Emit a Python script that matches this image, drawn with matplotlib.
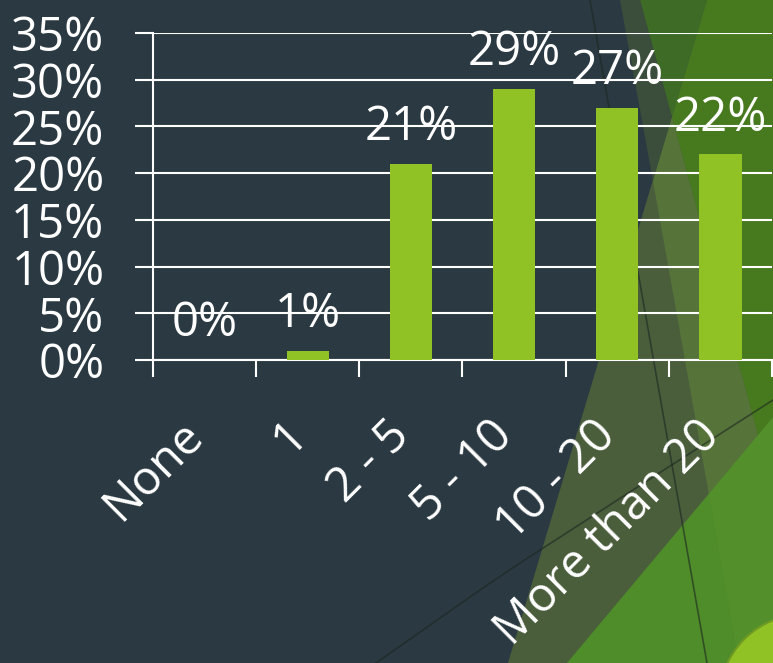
import matplotlib
matplotlib.use('Agg')
import matplotlib.pyplot as plt
from matplotlib.patches import Polygon, Ellipse
from matplotlib.lines import Line2D
from matplotlib.transforms import ScaledTranslation

categories = ['None', '1', '2 - 5', '5 - 10', '10 - 20', 'More than 20']
shares = [0, 1, 21, 29, 27, 22]
y_ticks = [0, 5, 10, 15, 20, 25, 30, 35]

W, H = 773, 663
BG = '#2b3a42'
BAR = '#90c226'
FS = 34

plt.rcParams['font.family'] = ['Open Sans', 'DejaVu Sans']

fig = plt.figure(figsize=(W / 100, H / 100), dpi=100)
fig.set_facecolor(BG)


def px(pts):
    # slide pixel coords (origin top-left) -> figure fraction
    return [(x / W, 1 - y / H) for x, y in pts]


# facet theme shapes on the right of the slide
facets = [
    ([(707, 0), (800, 0), (800, 663), (508, 663)], '#4a5e3c'),
    ([(620, 0), (640, 0), (672, 117), (653, 181)], '#3b4d3b'),
    ([(672, 117), (800, 590), (800, 663), (739, 663), (653, 181)], '#56733a'),
    ([(640, 0), (707, 0), (672, 117)], '#3e6c27'),
    ([(707, 0), (800, 0), (800, 590), (672, 117)], '#47791f'),
    ([(567, 663), (800, 385), (800, 663)], '#4f8c2a'),
    ([(709, 494), (800, 385), (800, 663), (739, 663)], '#53902b'),
]
for pts, col in facets:
    fig.add_artist(Polygon(px(pts), closed=True, facecolor=col, edgecolor='none',
                           transform=fig.transFigure, zorder=-5))

for pts in ([(590, 0), (707, 663)],
            [(376, 663), (480, 590), (520, 563), (667, 468), (773, 400), (800, 383)]):
    xy = px(pts)
    fig.add_artist(Line2D([p[0] for p in xy], [p[1] for p in xy], color='#1c2620',
                          alpha=0.6, lw=1.2, transform=fig.transFigure, zorder=-4))

fig.add_artist(Ellipse((805 / W, 1 - 700 / H), 2 * 86 / W, 2 * 86 / H, facecolor=BAR,
                       edgecolor='#6e9a23', lw=1.5, transform=fig.transFigure, zorder=-3))

ax = fig.add_axes([153 / W, 1 - 360 / H, (772 - 153) / W, (360 - 33) / H])
ax.set_facecolor('none')

x = list(range(len(categories)))
bars = ax.bar(x, shares, width=0.41, color=BAR, zorder=3)
for i, v in enumerate(shares):
    ax.annotate(f'{v}%', (i, v), xytext=(0, 17), textcoords='offset points',
                ha='center', va='baseline', color='white', fontsize=FS, zorder=4)

ax.set_xlim(-0.5, len(categories) - 0.5)
ax.set_ylim(0, 35)
ax.set_yticks(y_ticks, labels=[f'{t}%' for t in y_ticks])
ax.set_xticks([i - 0.5 for i in range(len(categories) + 1)],
              labels=[''] * (len(categories) + 1))
ax.set_xticks(x, labels=categories, minor=True)

ax.set_axisbelow(True)
ax.yaxis.grid(True, color='white', lw=1.5)

ax.tick_params(axis='x', which='major', direction='out', length=12.5, width=1.5, color='white')
ax.tick_params(axis='x', which='minor', length=0, pad=44, labelcolor='white', labelsize=FS)
ax.tick_params(axis='y', direction='out', length=13, width=1.5, colors='white',
               labelsize=FS, pad=22)

# nudge the slanted category labels a little down and left
nudge = ScaledTranslation(-6 / 72, -5 / 72, fig.dpi_scale_trans)
for lab in ax.get_xticklabels(minor=True):
    lab.set_rotation(45)
    lab.set_ha('right')
    lab.set_va('center')
    lab.set_rotation_mode('anchor')
    lab.set_transform(lab.get_transform() + nudge)

for side in ('top', 'right'):
    ax.spines[side].set_visible(False)
for side in ('left', 'bottom'):
    ax.spines[side].set_color('white')
    ax.spines[side].set_linewidth(1.5)

fig.savefig('out.png', dpi=100, facecolor=BG)
